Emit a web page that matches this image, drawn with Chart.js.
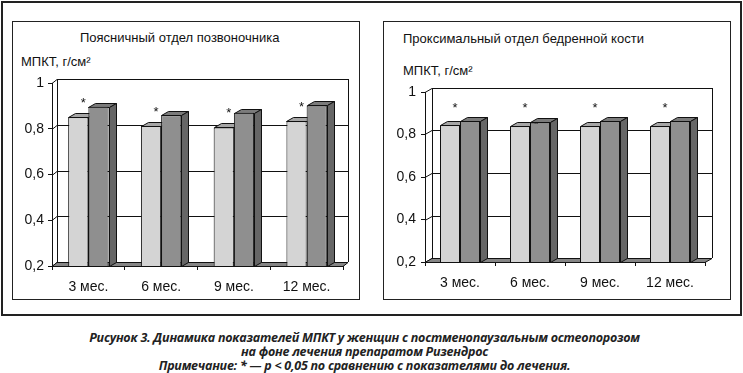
<!DOCTYPE html>
<html>
<head>
<meta charset="utf-8">
<script src="https://cdn.jsdelivr.net/npm/chart.js@4.4.1/dist/chart.umd.min.js"></script>
<style>
  body { margin: 0; width: 743px; height: 373px; position: relative; overflow: hidden; background: #fff;
         font-family: "Liberation Sans", Arial, sans-serif; color: #111; }
  #frame { position: absolute; left: 1px; top: 1px; width: 737px; height: 311px; border: 2px solid #222; }
  .panel { position: absolute; top: 21px; width: 348px; height: 279px; border: 1px solid #222; box-sizing: border-box; }
  canvas { position: absolute; }
  .ttl { position: absolute; font-size: 13px; white-space: nowrap; }
  #caption { position: absolute; left: 0; top: 331px; width: 729px; text-align: center;
             font-family: "Open Sans", sans-serif; font-weight: 700; font-style: italic; font-size: 12.5px;
             line-height: 14px; letter-spacing: -0.25px; color: #222; }
</style>
</head>
<body>
<div id="frame"></div>
<div class="panel" style="left:12px"></div>
<div class="panel" style="left:383px"></div>

<div class="ttl" style="left:80px;top:30px">Поясничный отдел позвоночника</div>
<div class="ttl" style="left:21px;top:54px">МПКТ, г/см²</div>
<div class="ttl" style="left:403px;top:31px">Проксимальный отдел бедренной кости</div>
<div class="ttl" style="left:403px;top:63px">МПКТ, г/см²</div>

<canvas id="spine" width="345" height="276" style="left:13px;top:22px"></canvas>
<canvas id="hip" width="344" height="276" style="left:385px;top:22px"></canvas>

<div id="caption">
  Рисунок 3. Динамика показателей МПКТ у женщин с постменопаузальным остеопорозом<br>
  на фоне лечения препаратом Ризендрос<br>
  Примечание: * — p &lt; 0,05 по сравнению с показателями до лечения.
</div>

<script>
const categories = ['3 мес.', '6 мес.', '9 мес.', '12 мес.'];
const yTicks = [0.2, 0.4, 0.6, 0.8, 1];
const yTickLabels = ['0,2', '0,4', '0,6', '0,8', '1'];

// Поясничный отдел позвоночника
const spineLight = [0.850, 0.812, 0.806, 0.833];
const spineDark = [0.896, 0.859, 0.870, 0.902];
const spineStars = [true, true, true, true];

// Проксимальный отдел бедренной кости
const hipLight = [0.843, 0.839, 0.839, 0.839];
const hipDark = [0.864, 0.857, 0.864, 0.864];
const hipStars = [true, true, true, true];

const FONT = '"Liberation Sans", Arial, sans-serif';

// draws the back wall, floor and the top/side faces of the bars
const box3d = {
  id: 'box3d',
  beforeDatasetsDraw(chart, args, opts) {
    const {ctx, chartArea: a, scales: {y}} = chart;
    const w = opts.wall, b = opts.bar;
    ctx.save();
    ctx.lineWidth = 1;
    ctx.strokeStyle = '#111';

    ctx.fillStyle = '#fff';
    ctx.fillRect(a.left + w.dx, a.top + w.dy, a.width, a.height);
    ctx.beginPath();
    ctx.moveTo(a.left + w.dx + 0.5, a.bottom + w.dy);
    ctx.lineTo(a.left + w.dx + 0.5, a.top + w.dy + 0.5);
    ctx.moveTo(a.right + w.dx + 0.5, a.top + w.dy);
    ctx.lineTo(a.right + w.dx + 0.5, a.bottom + w.dy);
    ctx.stroke();

    yTicks.forEach(v => {
      const py = Math.round(y.getPixelForValue(v)) + 0.5;
      ctx.beginPath();
      ctx.moveTo(a.left, py);
      ctx.lineTo(a.left + w.dx, py + w.dy);
      ctx.lineTo(a.right + w.dx, py + w.dy);
      ctx.stroke();
    });

    // floor
    const fb = Math.round(y.getPixelForValue(y.min)) + 0.5;
    ctx.beginPath();
    ctx.moveTo(a.left, fb);
    ctx.lineTo(a.right, fb);
    ctx.lineTo(a.right + w.dx, fb + w.dy);
    ctx.lineTo(a.left + w.dx, fb + w.dy);
    ctx.closePath();
    ctx.fillStyle = '#858585';
    ctx.fill();
    ctx.stroke();

    chart.data.datasets.forEach((ds, i) => {
      chart.getDatasetMeta(i).data.forEach(el => {
        const p = el.getProps(['x', 'y', 'width'], true);
        const l = Math.round(p.x - p.width / 2) + 0.5, r = Math.round(p.x + p.width / 2) + 0.5;
        const t = Math.round(p.y) + 0.5;
        ctx.beginPath();
        ctx.moveTo(l, t);
        ctx.lineTo(l + b.dx, t + b.dy);
        ctx.lineTo(r + b.dx, t + b.dy);
        ctx.lineTo(r, t);
        ctx.closePath();
        ctx.fillStyle = ds.topColor;
        ctx.fill();
        ctx.stroke();
        ctx.beginPath();
        ctx.moveTo(r, t);
        ctx.lineTo(r + b.dx, t + b.dy);
        ctx.lineTo(r + b.dx, fb + b.dy);
        ctx.lineTo(r, fb);
        ctx.closePath();
        ctx.fillStyle = ds.sideColor;
        ctx.fill();
        ctx.stroke();
      });
    });
    ctx.restore();
  },
  afterDatasetsDraw(chart, args, opts) {
    const {ctx} = chart;
    ctx.save();
    ctx.fillStyle = '#111';
    ctx.font = '13px ' + FONT;
    ctx.textAlign = 'center';
    ctx.textBaseline = 'middle';
    chart.data.datasets.forEach((ds, i) => {
      if (!ds.stars) return;
      chart.getDatasetMeta(i).data.forEach((el, j) => {
        if (!ds.stars[j]) return;
        const p = el.getProps(['x', 'y'], true);
        ctx.fillText('*', p.x + opts.star.dx, (opts.star.y != null ? opts.star.y : p.y - opts.star.dy));
      });
    });
    ctx.restore();
  }
};

function makeChart(id, light, dark, stars, geo) {
  return new Chart(document.getElementById(id), {
    type: 'bar',
    data: {
      labels: categories,
      datasets: [
        {data: light, backgroundColor: '#d4d4d4', topColor: '#a6a6a6', sideColor: '#8a8a8a',
         borderColor: '#111', borderWidth: 1, stars: stars},
        {data: dark, backgroundColor: '#8f8f8f', topColor: '#7b7b7b', sideColor: '#666666',
         borderColor: '#111', borderWidth: 1}
      ]
    },
    options: {
      responsive: false,
      animation: false,
      devicePixelRatio: 1,
      layout: {padding: {left: 0, top: geo.top, right: geo.right, bottom: 0}},
      datasets: {bar: {categoryPercentage: geo.cat, barPercentage: 1}},
      plugins: {
        legend: {display: false},
        tooltip: {enabled: false},
        box3d: {wall: geo.wall, bar: {dx: 7, dy: -4}, star: geo.star}
      },
      scales: {
        x: {
          grid: {display: true, drawOnChartArea: false, drawTicks: true, tickLength: 4, color: '#111'},
          border: {display: true, color: '#111', z: 1},
          ticks: {color: '#111', font: {family: FONT, size: 14}, padding: geo.xPad, maxRotation: 0},
          afterFit(s) { s.height = geo.xh; }
        },
        y: {
          min: 0.2, max: 1,
          afterBuildTicks(s) { s.ticks = yTicks.map(v => ({value: v})); },
          grid: {display: true, drawOnChartArea: false, drawTicks: true, tickLength: 4, color: '#111'},
          border: {display: true, color: '#111'},
          ticks: {color: '#111', font: {family: FONT, size: 14}, padding: geo.yPad,
                  callback: (v, i) => yTickLabels[i]},
          afterFit(s) { s.width = geo.yw; }
        }
      }
    },
    plugins: [box3d]
  });
}

makeChart('spine', spineLight, spineDark, spineStars,
  {top: 61, right: 15, xh: 32, yw: 39, cat: 40 / 72, xPad: 9, yPad: 4,
   wall: {dx: 5, dy: -4}, star: {dx: 5, dy: 14}});
makeChart('hip', hipLight, hipDark, hipStars,
  {top: 70, right: 24, xh: 36, yw: 40, cat: 40 / 70, xPad: 9, yPad: 5,
   wall: {dx: 7, dy: -4}, star: {dx: 5, y: 86}});
</script>
</body>
</html>
